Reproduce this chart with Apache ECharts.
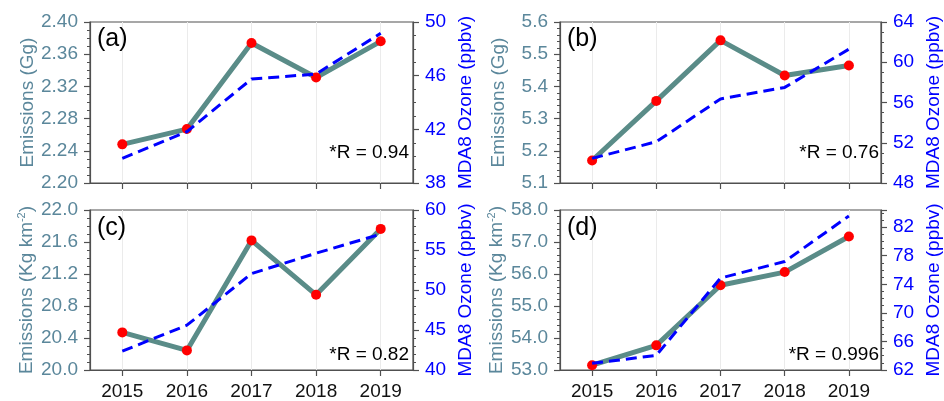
<!DOCTYPE html>
<html>
<head>
<meta charset="utf-8">
<script src="https://cdn.jsdelivr.net/npm/echarts@6/dist/echarts.min.js"></script>
<style>
html,body{margin:0;padding:0;background:#fff;}
#c{width:944px;height:401px;}
</style>
</head>
<body>
<div id="c"></div>
<script>
const years = ['2015', '2016', '2017', '2018', '2019'];

const emA = [2.248, 2.267, 2.374, 2.331, 2.376];
const ozA = [39.84, 41.82, 45.75, 46.12, 49.16];
const emB = [5.170, 5.355, 5.543, 5.434, 5.465];
const ozB = [50.45, 52.10, 56.35, 57.50, 61.30];
const emC = [20.47, 20.245, 21.62, 20.94, 21.764];
const ozC = [42.36, 45.60, 52.05, 54.60, 56.98];
const emD = [53.15, 53.77, 55.65, 56.06, 57.17];
const ozD = [62.93, 64.05, 74.87, 77.19, 83.57];

const panelLabels = ['(a)', '(b)', '(c)', '(d)'];
const rLabels = ['*R = 0.94', '*R = 0.76', '*R = 0.82', '*R = 0.996'];
const emTitles = ['Emissions (Gg)', 'Emissions (Gg)', 'Emissions (Kg km{sup|-2})', 'Emissions (Kg km{sup|-2})'];
const ozTitle = 'MDA8 Ozone (ppbv)';

const leftMin = [2.20, 5.1, 20.0, 53.0];
const leftMax = [2.40, 5.6, 22.0, 58.0];
const leftInterval = [0.04, 0.1, 0.4, 1.0];
const leftDecimals = [2, 1, 1, 1];
const leftMinor = [4, 5, 4, 5];
const rightMin = [38, 48, 40, 62];
const rightMax = [50, 64, 60, 84.4];
const rightInterval = [4, 4, 5, 4];
const rightMinor = [4, 4, 5, 4];

const emSeries = [emA, emB, emC, emD];
const ozSeries = [ozA, ozB, ozC, ozD];

const FONT = 'Liberation Sans, Arial, Helvetica, sans-serif';
const AX = '#505050';
const EMTXT = '#5b879b';
const EMLINE = '#5a8c88';
const BLUE = '#0000ff';

const gridPos = [
  {left: 90, top: 22},
  {left: 560, top: 22},
  {left: 90, top: 210},
  {left: 560, top: 210}
];
const rPos = [
  {right: 535, top: 143},
  {right: 65, top: 143},
  {right: 535, top: 345},
  {right: 65, top: 345}
];
const pPos = [
  {left: 97, top: 27},
  {left: 567, top: 27},
  {left: 97, top: 216},
  {left: 567, top: 216}
];

const grid = [], xAxis = [], yAxis = [], series = [], title = [];
for (let i = 0; i < 4; i++) {
  grid.push({left: gridPos[i].left, top: gridPos[i].top, width: 323, height: 161,
    show: true, borderColor: AX, borderWidth: 1.2, backgroundColor: 'transparent'});
  xAxis.push({
    type: 'category', gridIndex: i, data: years, boundaryGap: true,
    axisLine: {show: true, lineStyle: {color: AX, width: 1.2}},
    axisTick: {show: true, alignWithLabel: true, inside: false, length: 6, lineStyle: {color: AX, width: 1.2}},
    axisLabel: {show: i >= 2, color: '#111', fontSize: 19, fontFamily: FONT, margin: 12},
    splitLine: {show: true, alignWithLabel: true, lineStyle: {color: '#ebebeb', width: 1}}
  });
  const dec = leftDecimals[i];
  yAxis.push({
    type: 'value', gridIndex: i, position: 'left',
    min: leftMin[i], max: leftMax[i], interval: leftInterval[i],
    name: emTitles[i], nameLocation: 'middle', nameGap: 52,
    nameTextStyle: {color: EMTXT, fontSize: 19, fontFamily: FONT,
      rich: {sup: {fontSize: 11, color: EMTXT, fontFamily: FONT, verticalAlign: 'top', padding: [0, 0, 11, 0]}}},
    axisLine: {show: true, lineStyle: {color: AX, width: 1.2}},
    axisTick: {show: true, inside: false, length: 6, lineStyle: {color: AX, width: 1.2}},
    minorTick: {show: true, splitNumber: leftMinor[i], length: 3, lineStyle: {color: AX, width: 1}},
    axisLabel: {color: EMTXT, fontSize: 19, fontFamily: FONT, margin: 12,
      formatter: v => Number(v).toFixed(dec)},
    splitLine: {show: false}
  });
  yAxis.push({
    type: 'value', gridIndex: i, position: 'right',
    min: rightMin[i], max: rightMax[i], interval: rightInterval[i],
    name: ozTitle, nameLocation: 'middle', nameGap: 43,
    nameTextStyle: {color: BLUE, fontSize: 19, fontFamily: FONT},
    axisLine: {show: true, lineStyle: {color: AX, width: 1.2}},
    axisTick: {show: true, inside: false, length: 6, lineStyle: {color: AX, width: 1.2}},
    minorTick: {show: true, splitNumber: rightMinor[i], length: 3, lineStyle: {color: AX, width: 1}},
    axisLabel: {color: BLUE, fontSize: 19, fontFamily: FONT, margin: 12, showMaxLabel: i !== 3,
      formatter: v => String(Math.round(v))},
    splitLine: {show: false}
  });
  series.push({
    type: 'line', xAxisIndex: i, yAxisIndex: 2 * i, data: emSeries[i],
    symbol: 'circle', symbolSize: 10, z: 2,
    lineStyle: {color: EMLINE, width: 5},
    itemStyle: {color: '#ff0000', borderWidth: 0},
    animation: false
  });
  series.push({
    type: 'line', xAxisIndex: i, yAxisIndex: 2 * i + 1, data: ozSeries[i],
    symbol: 'none', z: 3,
    lineStyle: {color: BLUE, width: 3, type: [11, 6]},
    animation: false
  });
  title.push({text: panelLabels[i], left: pPos[i].left, top: pPos[i].top, padding: 0,
    textStyle: {fontSize: 25, fontWeight: 'normal', color: '#000', fontFamily: FONT}});
  title.push({text: rLabels[i], right: rPos[i].right, top: rPos[i].top, padding: 0,
    textStyle: {fontSize: 19, fontWeight: 'normal', color: '#000', fontFamily: FONT}});
}

const chart = echarts.init(document.getElementById('c'), null, {renderer: 'canvas'});
chart.setOption({animation: false, backgroundColor: '#fff', title, grid, xAxis, yAxis, series});
</script>
</body>
</html>
